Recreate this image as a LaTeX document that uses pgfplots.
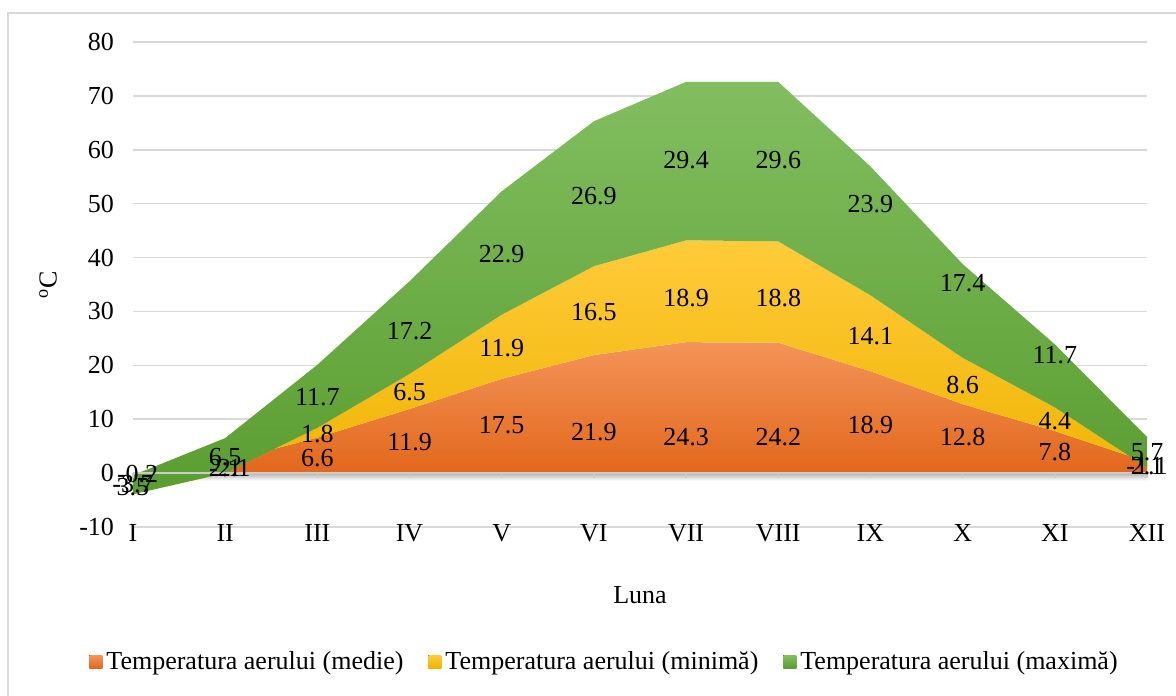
\documentclass[border=0pt]{standalone}
\usepackage{fontspec}
\setmainfont{Liberation Serif}
\usepackage{pgfplots}
\usepackage{pgfplotstable}
\pgfplotsset{compat=1.18}

\definecolor{orA}{HTML}{F39459}
\definecolor{orB}{HTML}{E2671B}
\definecolor{yeA}{HTML}{FFCB3A}
\definecolor{yeB}{HTML}{EFB300}
\definecolor{grA}{HTML}{82BE60}
\definecolor{grB}{HTML}{5A9D30}
\definecolor{gridc}{HTML}{D9D9D9}
\newcommand\lf{\fontsize{13}{15.5}\selectfont}

\pgfplotstableread{
x medie minima maxima
0 -0.2 -3.7 3.5
1 2.1 -2.1 6.5
2 6.6 1.8 11.7
3 11.9 6.5 17.2
4 17.5 11.9 22.9
5 21.9 16.5 26.9
6 24.3 18.9 29.4
7 24.2 18.8 29.6
8 18.9 14.1 23.9
9 12.8 8.6 17.4
10 7.8 4.4 11.7
11 2.1 -1.1 5.7
}\datatable
% stacked (cumulative) levels, as Excel stacks the series
\pgfplotstablecreatecol[expr={\thisrow{medie}}]{ca}\datatable
\pgfplotstablecreatecol[expr={\thisrow{medie}+\thisrow{minima}}]{cb}\datatable
\pgfplotstablecreatecol[expr={\thisrow{medie}+\thisrow{minima}+\thisrow{maxima}}]{cc}\datatable
% closed outline of each layer: its upper level forward, its lower level backward
\pgfplotstablesort[sort key=x]{\oF}{\datatable}
\pgfplotstablecreatecol[expr={\thisrow{ca}}]{py}\oF
\pgfplotstablesort[sort key=x, sort cmp=float >]{\oR}{\datatable}
\pgfplotstablecreatecol[expr={0}]{py}\oR
\pgfplotstablevertcat{\oF}{\oR}
\pgfplotstablesort[sort key=x]{\yF}{\datatable}
\pgfplotstablecreatecol[expr={\thisrow{cb}}]{py}\yF
\pgfplotstablesort[sort key=x, sort cmp=float >]{\yR}{\datatable}
\pgfplotstablecreatecol[expr={\thisrow{ca}}]{py}\yR
\pgfplotstablevertcat{\yF}{\yR}
\pgfplotstablesort[sort key=x]{\gF}{\datatable}
\pgfplotstablecreatecol[expr={\thisrow{cc}}]{py}\gF
\pgfplotstablesort[sort key=x, sort cmp=float >]{\gR}{\datatable}
\pgfplotstablecreatecol[expr={\thisrow{cb}}]{py}\gR
\pgfplotstablevertcat{\gF}{\gR}

% label positions (x, y where the label sits, text)
\pgfplotstableread{
x y lab
0.05 -0.1 -0.2
1 1.0 2.1
2 2.8 6.6
3 5.75 11.9
4 8.9 17.5
5 7.6 21.9
6 6.7 24.3
7 6.7 24.2
8 8.9 18.9
9 6.7 12.8
10 3.9 7.8
11 1.3 2.1
0 -2.1 -3.7
1.05 1.0 -2.1
2 7.2 1.8
3 15.0 6.5
4 23.2 11.9
5 29.9 16.5
6 32.5 18.9
7 32.5 18.8
8 25.4 14.1
9 16.3 8.6
10 9.6 4.4
11 1.3 -1.1
0 -2.6 3.5
1 3.0 6.5
2 14.1 11.7
3 26.3 17.2
4 40.6 22.9
5 51.4 26.9
6 58.1 29.4
7 58.1 29.6
8 49.9 23.9
9 35.3 17.4
10 21.9 11.7
11 3.9 5.7
}\labtable

\pgfplotsset{
  base/.style={
    scale only axis, width=507pt, height=242.5pt,
    at={(0,0)}, anchor=south west,
    xmin=0, xmax=11, ymin=-10, ymax=80,
  }
}

\begin{document}
\begin{tikzpicture}
\path[use as bounding box] (-66.5pt,-84pt) rectangle (521.5pt,263.5pt);
\draw[gridc, line width=1pt] (-62.5pt,-120pt) -- (-62.5pt,257pt) -- (600pt,257pt);
\begin{axis}[base,
  axis line style={draw=none},
  tick style={draw=none},
  ymajorgrids, grid style={gridc, line width=0.75pt},
  ytick={-10,0,10,20,30,40,50,60,70,80},
  yticklabels={-10,0,10,20,30,40,50,60,70,80},
  xtick={0,...,11},
  xticklabels={I,II,III,IV,V,VI,VII,VIII,IX,X,XI,XII},
  ticklabel style={font=\lf},
  yticklabel style={xshift=-6pt},
  xticklabel style={yshift=5pt},
  xlabel={Luna}, xlabel style={font=\lf, at={(axis description cs:0.5,0)}, anchor=center, yshift=-34pt},
  ylabel={\textsuperscript{o}C}, ylabel style={font=\lf, at={(axis description cs:-0.0838,0.5)}, anchor=center},
  legend columns=3,
  legend style={draw=none, font=\lf, at={(axis description cs:0.466,-0.278)}, anchor=center,
    /tikz/every even column/.append style={column sep=10.5pt}},
  legend image code/.code={\fill[#1] (0pt,-3.25pt) rectangle (6.5pt,3.25pt);},
  clip=false,
]
\shade[top color=black!30, bottom color=white] (axis cs:0.15,0) rectangle (axis cs:11,-1.4);
\addplot[draw=none, top color=orA, bottom color=orB] table[x=x, y=py]{\oF} -- cycle;
\addlegendentry{Temperatura aerului (medie)}
\addplot[draw=none, top color=yeA, bottom color=yeB] table[x=x, y=py]{\yF} -- cycle;
\addlegendentry{Temperatura aerului (minimă)}
\addplot[draw=none, top color=grA, bottom color=grB] table[x=x, y=py]{\gF} -- cycle;
\addlegendentry{Temperatura aerului (maximă)}
\draw[gridc!85!gray, line width=0.9pt] (axis cs:0,0) -- (axis cs:11,0);
\pgfplotsinvokeforeach{0,...,11}{\draw[gridc!85!gray, line width=0.75pt] (axis cs:#1,0) -- ([yshift=-2.5pt]axis cs:#1,0);}
\end{axis}
\begin{axis}[base, hide axis, clip=false]
\addplot[draw=none, mark=none, nodes near coords, point meta=explicit symbolic,
  every node near coord/.append style={anchor=center, font=\lf, text=black}]
  table[x=x, y=y, meta=lab]{\labtable};
\end{axis}
\end{tikzpicture}
\end{document}
